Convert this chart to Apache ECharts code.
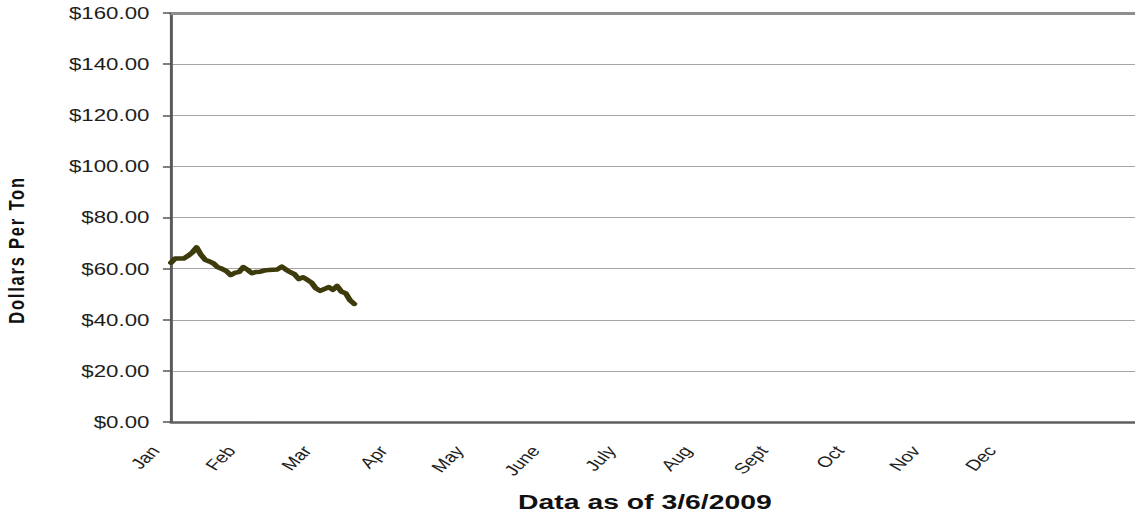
<!DOCTYPE html>
<html>
<head>
<meta charset="utf-8">
<script src="https://cdn.jsdelivr.net/npm/echarts@6/dist/echarts.min.js"></script>
<style>
html,body{margin:0;padding:0;background:#fff;overflow:hidden;}
#wrap{width:1135px;height:517px;overflow:hidden;position:relative;background:#fff;}
#chart{width:841px;height:517px;transform:scaleX(1.3496);transform-origin:0 0;}
</style>
</head>
<body>
<div id="wrap"><div id="chart"></div></div>
<script>
// Month tick labels (one per month slot on the bottom axis)
const monthLabels = ['Jan','Feb','Mar','Apr','May','June','July','Aug','Sept','Oct','Nov','Dec'];
// Y axis ticks
const yMin = 0, yMax = 160, yStep = 20;
// Daily prices (dollars per ton), one per trading day from early January to 3/6/2009
const prices = [62.3, 64.0, 64.0, 64.0, 65.0, 66.3, 68.3, 65.5, 63.5, 62.8,
                62.0, 60.5, 59.9, 59.0, 57.5, 58.3, 58.7, 60.6, 59.5, 58.2,
                58.7, 58.8, 59.3, 59.5, 59.6, 59.7, 60.8, 59.6, 58.6, 57.8,
                55.9, 56.6, 55.6, 54.5, 52.3, 51.3, 52.0, 52.8, 51.7, 53.2,
                51.0, 50.4, 47.7, 46.2];
const yTitle = 'Dollars Per Ton';
const xTitle = 'Data as of 3/6/2009';

const seriesData = prices.map((v, i) => [i, v]);
const FONT = "'Liberation Sans', Arial, sans-serif";

const chart = echarts.init(document.getElementById('chart'), null, {renderer: 'svg'});
chart.setOption({
  animation: false,
  backgroundColor: '#ffffff',
  grid: {left: 126.7, right: 0, top: 13, bottom: 95, containLabel: false, outerBoundsMode: 'none'},
  xAxis: [
    { // data axis: trading-day index
      type: 'value', min: 0, max: 226.3, show: false
    },
    { // month labels axis
      type: 'value', min: 0, max: 12.674, interval: 1, position: 'bottom',
      axisLine: {show: true, onZero: false, lineStyle: {color: '#5f5f5f', width: 2.5}},
      axisTick: {show: false},
      splitLine: {show: false},
      axisLabel: {
        rotate: 52, margin: 11, fontSize: 15, color: '#1e1e1e', fontFamily: FONT,
        padding: [0, 19, 0, 0], showMaxLabel: false,
        formatter: v => (Number.isInteger(v) && monthLabels[v]) ? monthLabels[v] : ''
      },
      name: xTitle, nameLocation: 'middle', nameGap: 69,
      nameTextStyle: {fontSize: 21, fontWeight: 'bold', color: '#111', fontFamily: FONT, padding: [0, 12, 0, 0]}
    },
    { // top border of plot area
      type: 'value', min: 0, max: 1, position: 'top',
      axisLine: {show: true, onZero: false, lineStyle: {color: '#8e8e8e', width: 3}},
      axisTick: {show: false}, axisLabel: {show: false}, splitLine: {show: false}
    }
  ],
  yAxis: {
    type: 'value', min: yMin, max: yMax, interval: yStep,
    axisLine: {show: true, onZero: false, lineStyle: {color: '#5a5a5a', width: 2.2}},
    axisTick: {show: true, length: 6, lineStyle: {color: '#555', width: 1.5}},
    splitLine: {show: true, lineStyle: {color: '#a6a6a6', width: 1}},
    axisLabel: {
      margin: 16, fontSize: 16.5, color: '#1e1e1e', fontFamily: FONT,
      formatter: v => '$' + v.toFixed(2)
    },
    name: yTitle, nameLocation: 'middle', nameGap: 106,
    nameTextStyle: {fontSize: 16.5, fontWeight: 'bold', color: '#111', fontFamily: FONT, padding: [0, 65, 0, 0]}
  },
  series: [{
    type: 'line', xAxisIndex: 0, data: seriesData, symbol: 'none',
    lineStyle: {color: '#3d3b0c', width: 4.5, join: 'round', cap: 'round'},
    z: 5
  }]
});

function applySpacing() {
  document.querySelectorAll('#chart svg text').forEach(t => {
    if (t.textContent === yTitle) t.style.letterSpacing = '1.8px';
  });
}
chart.on('finished', applySpacing);
applySpacing();
setTimeout(applySpacing, 30);
</script>
</body>
</html>
